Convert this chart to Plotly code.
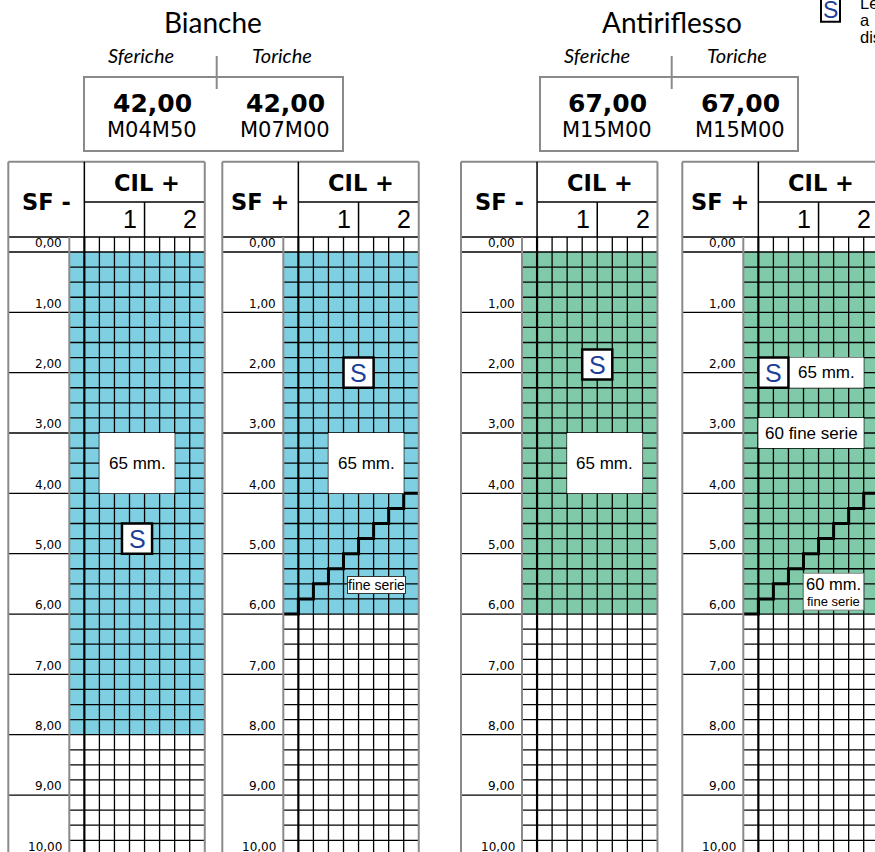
import plotly.graph_objects as go

W, H = 875, 852

# ---- data -------------------------------------------------------------
CILINDRI = [0.00, 0.25, 0.50, 0.75, 1.00, 1.25, 1.50, 1.75, 2.00]
SFERE = [0.00, 0.25, 0.50, 0.75, 1.00, 1.25, 1.50, 1.75, 2.00, 2.25,
         2.50, 2.75, 3.00, 3.25, 3.50, 3.75, 4.00, 4.25, 4.50, 4.75,
         5.00, 5.25, 5.50, 5.75, 6.00, 6.25, 6.50, 6.75, 7.00, 7.25,
         7.50, 7.75, 8.00, 8.25, 8.50, 8.75, 9.00, 9.25, 9.50, 9.75, 10.00]
SFERE_ETICHETTA = [0, 1, 2, 3, 4, 5, 6, 7, 8, 9, 10]
ETICHETTE = ["0,00", "1,00", "2,00", "3,00", "4,00", "5,00", "6,00", "7,00", "8,00", "9,00", "10,00"]

# ultima sfera disponibile per ogni colonna di cilindro
BIANCHE_SF_MENO = [8.00, 8.00, 8.00, 8.00, 8.00, 8.00, 8.00, 8.00, 8.00]
BIANCHE_SF_PIU = [6.00, 6.00, 6.00, 6.00, 6.00, 6.00, 6.00, 6.00, 6.00]
AR_SF_MENO = [6.00, 6.00, 6.00, 6.00, 6.00, 6.00, 6.00, 6.00, 6.00]
AR_SF_PIU = [6.00, 6.00, 6.00, 6.00, 6.00, 6.00, 6.00, 6.00, 6.00]
PRIMA_SFERA = 0.25
FINE_SERIE = [6.00, 5.75, 5.50, 5.25, 5.00, 4.75, 4.50, 4.25, 4.00]

GRUPPI = ["Bianche", "Antiriflesso"]
PREZZI = [["42,00", "42,00"], ["67,00", "67,00"]]
CODICI = [["M04M50", "M07M00"], ["M15M00", "M15M00"]]

AZZURRO = "#7fcfe2"
VERDE = "#80c9a9"
BLU_S = "#1d3f97"
GRIGIO = "#8a8a8a"

# boxes: (cil0, cil1, sf0, sf1, testo)
PANNELLI = [
    dict(segno="SF -", colore=AZZURRO, fino=BIANCHE_SF_MENO, scala=False,
         box=[(0.375, 1.625, 3.125, 4.125, "65 mm.")], s=[(0.75, 1.25, 4.625, 5.125)], note=[]),
    dict(segno="SF +", colore=AZZURRO, fino=BIANCHE_SF_PIU, scala=True,
         box=[(0.625, 1.875, 3.125, 4.125, "65 mm.")], s=[(0.875, 1.375, 1.875, 2.375)],
         note=[(1.43, 5.636, "fine serie", 14)]),
    dict(segno="SF -", colore=VERDE, fino=AR_SF_MENO, scala=False,
         box=[(0.625, 1.875, 3.125, 4.125, "65 mm.")], s=[(0.875, 1.375, 1.74, 2.24)], note=[]),
    dict(segno="SF +", colore=VERDE, fino=AR_SF_PIU, scala=True,
         box=[(0.625, 1.875, 1.875, 2.375, "65 mm."), (0.125, 1.875, 2.875, 3.375, "60 fine serie")],
         s=[(0.125, 0.625, 1.875, 2.375)], note=[]),
]

# ---- geometry ---------------------------------------------------------
PX_CIL = 60.2
PX_SF = 60.34
LEFT_PX = [8.3, 222.3, 461.0, 682.3]
TOP_PX = 161.7
GRID_TOP_PX = 236.9
X_LEFT = -0.125 - 61.0 / PX_CIL
X_RIGHT = 2.125
Y_TOP = -0.125 - (GRID_TOP_PX - TOP_PX) / PX_SF
PAD = 0.03
Y_SUB = -0.705
FONT = "DejaVu Sans"
FONT2 = "Liberation Sans"


def px(x, y):
    return x / W, 1 - y / H


fig = go.Figure()
layout = {}
shapes = []
annotations = []

y_lo = Y_TOP - PAD
top_px = TOP_PX - PAD * PX_SF
y_hi = y_lo + (H - top_px) / PX_SF
y_bottom = SFERE[-1] + 0.125

for i, p in enumerate(PANNELLI):
    n = "" if i == 0 else str(i + 1)
    xr, yr = "x" + n, "y" + n
    x_lo, x_hi = X_LEFT - PAD, X_RIGHT + PAD
    px0 = LEFT_PX[i] - PAD * PX_CIL
    px1 = px0 + (x_hi - x_lo) * PX_CIL
    if px1 > W:
        x_hi = x_lo + (W - px0) / PX_CIL
        px1 = W
    layout["xaxis" + n] = dict(domain=[px0 / W, px1 / W], range=[x_lo, x_hi], visible=False,
                               anchor=yr, fixedrange=True)
    layout["yaxis" + n] = dict(domain=[0, 1 - top_px / H], range=[y_hi, y_lo], visible=False,
                               anchor=xr, fixedrange=True)

    z = [[1 if PRIMA_SFERA <= s <= p["fino"][c] else 0 for c in range(len(CILINDRI))] for s in SFERE]
    fig.add_trace(go.Heatmap(x=CILINDRI, y=SFERE, z=z, zmin=0, zmax=1, showscale=False,
                             colorscale=[[0, "white"], [1, p["colore"]]], hoverinfo="skip",
                             xaxis=xr, yaxis=yr))

    # grid lines
    gx, gy = [], []
    for c in CILINDRI[1:-1]:
        gx += [c + 0.125, c + 0.125, None]
        gy += [-0.125, y_bottom, None]
    for s in SFERE:
        gx += [-0.125, X_RIGHT, None]
        gy += [s + 0.125, s + 0.125, None]
    for v in SFERE_ETICHETTA:
        gx += [X_LEFT, -0.125, None]
        gy += [v + 0.125, v + 0.125, None]
    fig.add_trace(go.Scatter(x=gx, y=gy, mode="lines", line=dict(color="black", width=1.3),
                             hoverinfo="skip", xaxis=xr, yaxis=yr))
    fig.add_trace(go.Scatter(x=[CILINDRI[0] + 0.125] * 2, y=[-0.125, y_bottom], mode="lines",
                             line=dict(color="black", width=2.2), hoverinfo="skip", xaxis=xr, yaxis=yr))

    if p["scala"]:
        sx = [c - 0.125 for c in CILINDRI] + [CILINDRI[-1] + 0.125]
        sy = [f + 0.125 for f in FINE_SERIE] + [FINE_SERIE[-1] + 0.125]
        fig.add_trace(go.Scatter(x=sx, y=sy, mode="lines", line=dict(color="black", width=3, shape="hv"),
                                 hoverinfo="skip", xaxis=xr, yaxis=yr))

    def line(x0, y0, x1, y1, color="black", width=1.3):
        shapes.append(dict(type="line", xref=xr, yref=yr, x0=x0, y0=y0, x1=x1, y1=y1,
                           line=dict(color=color, width=width), layer="above"))

    # header and frame
    line(X_LEFT, Y_TOP, X_RIGHT, Y_TOP, GRIGIO, 2)
    line(X_LEFT, -0.125, X_RIGHT, -0.125, "black", 1.5)
    line(0.125, Y_TOP, 0.125, -0.125, "black", 1.5)
    line(0.125, Y_SUB, X_RIGHT, Y_SUB, "black", 1.5)
    line(1.125, Y_SUB, 1.125, -0.125, "black", 1.5)
    line(X_LEFT, Y_TOP, X_LEFT, y_hi, GRIGIO, 2)
    line(X_RIGHT, Y_TOP, X_RIGHT, y_hi, GRIGIO, 2)
    line(-0.125, -0.125, -0.125, y_hi, GRIGIO, 2)

    annotations.append(dict(xref=xr, yref=yr, x=(X_LEFT + 0.125) / 2, y=-0.71, text="<b>%s</b>" % p["segno"],
                            showarrow=False, font=dict(family=FONT, size=22.5, color="black")))
    annotations.append(dict(xref=xr, yref=yr, x=1.17, y=(Y_TOP + Y_SUB) / 2 + 0.02, text="<b>CIL +</b>",
                            showarrow=False, font=dict(family=FONT, size=22.5, color="black")))
    # column group labels, anchored on the last cell of each group
    for xv, lab in [(CILINDRI[4], "1"), (CILINDRI[8], "2")]:
        annotations.append(dict(xref=xr, yref=yr, x=xv, y=(Y_SUB - 0.125) / 2, text=lab, xanchor="right",
                                xshift=0.125 * PX_CIL - 5.5, showarrow=False,
                                font=dict(family=FONT2, size=25, color="black")))
    for v, lab in zip(SFERE_ETICHETTA, ETICHETTE):
        annotations.append(dict(xref=xr, yref=yr, x=-0.125, y=v, text=lab, xanchor="right", xshift=-5,
                                yshift=1, showarrow=False, font=dict(family=FONT, size=12, color="black")))

    for x0, x1, y0, y1, t in p["box"]:
        shapes.append(dict(type="rect", xref=xr, yref=yr, x0=x0, x1=x1, y0=y0, y1=y1,
                           fillcolor="white", line=dict(width=0), layer="above"))
        annotations.append(dict(xref=xr, yref=yr, x=(x0 + x1) / 2, y=(y0 + y1) / 2, text=t,
                                showarrow=False, font=dict(family=FONT2, size=17, color="black")))
    for x0, x1, y0, y1 in p["s"]:
        shapes.append(dict(type="rect", xref=xr, yref=yr, x0=x0, x1=x1, y0=y0, y1=y1,
                           fillcolor="white", line=dict(color="black", width=2.5), layer="above"))
        annotations.append(dict(xref=xr, yref=yr, x=(x0 + x1) / 2, y=(y0 + y1) / 2, text="S",
                                showarrow=False, font=dict(family=FONT2, size=25, color=BLU_S)))
    for xn, yn, t, fs in p["note"]:
        annotations.append(dict(xref=xr, yref=yr, x=xn, y=yn, text=t, showarrow=False, bgcolor="white",
                                bordercolor="#333", borderwidth=1, borderpad=0,
                                font=dict(family=FONT2, size=fs, color="black")))
    if i == 3:
        shapes.append(dict(type="rect", xref=xr, yref=yr, x0=0.875, x1=1.875, y0=5.45, y1=6.06,
                           fillcolor="white", line=dict(color=GRIGIO, width=1), layer="above"))
        annotations.append(dict(xref=xr, yref=yr, x=1.375, y=5.62, text="60 mm.", showarrow=False,
                                font=dict(family=FONT2, size=16.5, color="black")))
        annotations.append(dict(xref=xr, yref=yr, x=1.375, y=5.92, text="fine serie", showarrow=False,
                                font=dict(family=FONT2, size=13, color="black")))


def txt(x, y, t, size, family="Lato", color="black", xanchor="center"):
    xp, yp = px(x, y)
    annotations.append(dict(xref="paper", yref="paper", x=xp, y=yp, text=t, showarrow=False,
                            xanchor=xanchor, yanchor="middle",
                            font=dict(family=family, size=size, color=color)))


# ---- group headers ----------------------------------------------------
HEAD = [dict(cx=213, sx=141, tx=282, lx=216.7, b0=84, b1=343, n0=152, n1=285),
        dict(cx=672, sx=597, tx=737, lx=671.7, b0=540, b1=798, n0=607, n1=740)]
for g, h in enumerate(HEAD):
    txt(h["cx"], 22, GRUPPI[g], 28)
    txt(h["sx"], 55, "<i>Sferiche</i>", 20)
    txt(h["tx"], 55, "<i>Toriche</i>", 20)
    for k, xc in enumerate([h["n0"], h["n1"]]):
        txt(xc, 103, "<b>%s</b>" % PREZZI[g][k], 25, FONT)
        txt(xc, 130, CODICI[g][k], 21, FONT)
    x0, y0 = px(h["b0"], 77)
    x1, y1 = px(h["b1"], 151)
    shapes.append(dict(type="rect", xref="paper", yref="paper", x0=x0, x1=x1, y0=y0, y1=y1,
                       line=dict(color=GRIGIO, width=2)))
    lx0, ly0 = px(h["lx"], 56)
    lx1, ly1 = px(h["lx"], 89)
    shapes.append(dict(type="line", xref="paper", yref="paper", x0=lx0, x1=lx1, y0=ly0, y1=ly1,
                       line=dict(color=GRIGIO, width=2)))

# legend of the S mark (cut by the page edge)
sx0, sy0 = px(821, -3)
sx1, sy1 = px(840, 21.7)
shapes.append(dict(type="rect", xref="paper", yref="paper", x0=sx0, x1=sx1, y0=sy0, y1=sy1,
                   fillcolor="white", line=dict(color="black", width=2)))
txt(830.5, 10, "S", 23, FONT2, BLU_S)
for yy, t in [(3, "Le lenti"), (20, "a&nbsp;&nbsp;&nbsp;magazzino"), (37, "disponibili")]:
    txt(858, yy, t, 16.5, FONT2, xanchor="left")

fig.update_layout(width=W, height=H, margin=dict(l=0, r=0, t=0, b=0), showlegend=False,
                  paper_bgcolor="white", plot_bgcolor="white", shapes=shapes, annotations=annotations,
                  **layout)
fig.write_html("out.html", config={"displayModeBar": False},
               post_script="document.body.style.margin='0px';")
